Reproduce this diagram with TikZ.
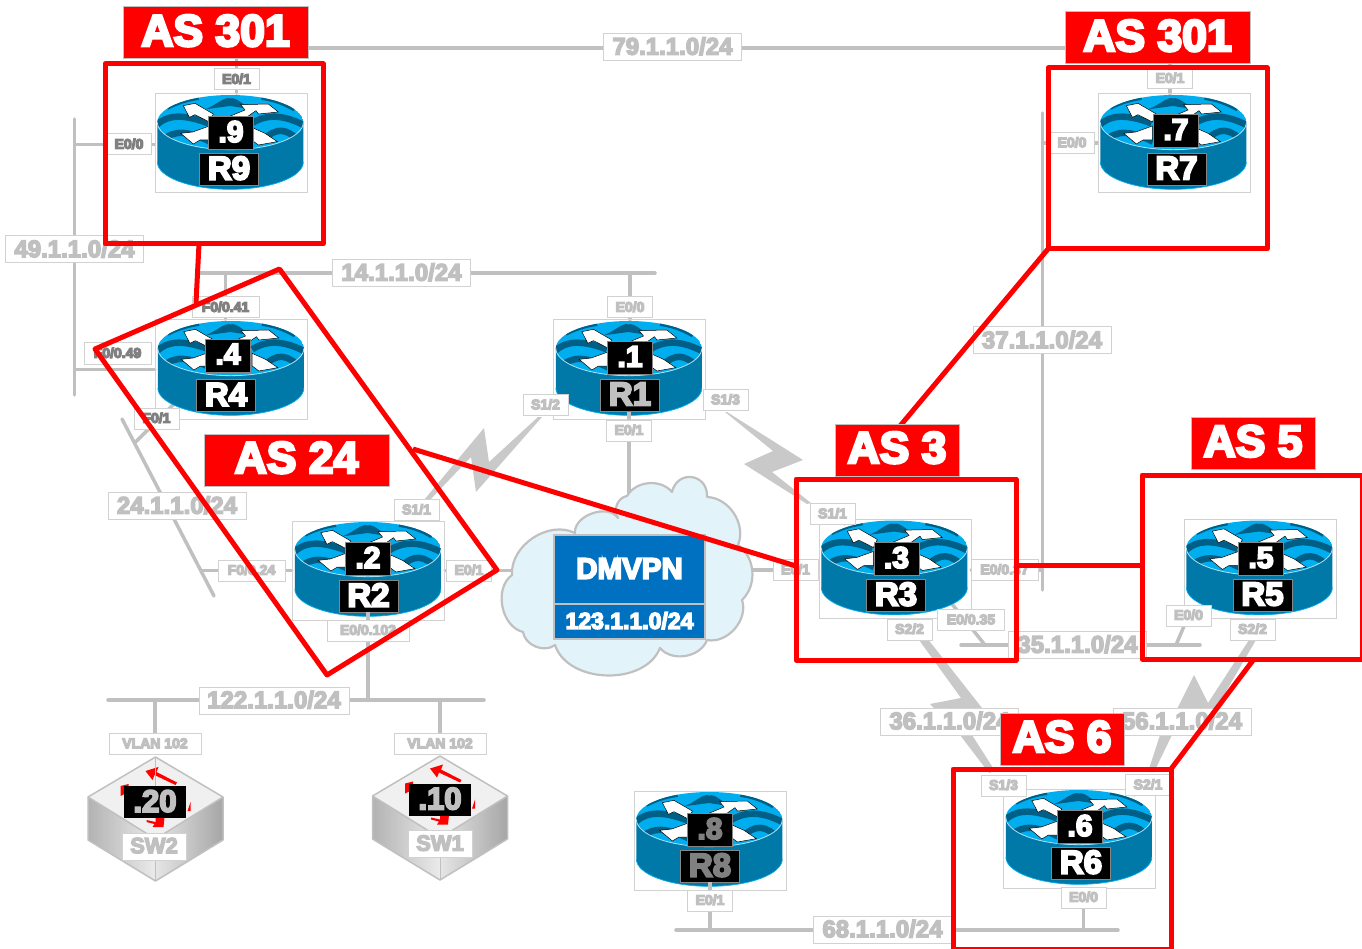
\documentclass[tikz,border=0pt]{standalone}
\usepackage{fontspec}
\usetikzlibrary{calc}
\newfontfamily\hv[FakeBold=6]{Liberation Sans Bold}
\newfontfamily\hvs[FakeBold=9]{Liberation Sans Bold}
\definecolor{linkc}{HTML}{C0C0C0}
\definecolor{txtl}{HTML}{C0C0C0}
\definecolor{txtd}{HTML}{808080}
\definecolor{edgec}{HTML}{D2D2D2}
\definecolor{redc}{HTML}{FF0000}
\definecolor{bodyc}{HTML}{0078A8}
\definecolor{topc}{HTML}{00AEEF}
\definecolor{wavec}{HTML}{005F87}
\definecolor{rimc}{HTML}{A8E0F5}
\definecolor{cloudc}{HTML}{E2F4F9}
\definecolor{bluec}{HTML}{0070C0}
\pgfdeclarelayer{links}
\pgfsetlayers{links,main}
\tikzset{
  link/.style={draw=linkc,line width=3.5pt,line cap=round},
  thinlink/.style={draw=linkc,line width=2pt},
  serial/.style={fill=linkc!85!white,draw=none},
  rbox/.style={draw=edgec,line width=1pt,minimum width=152pt,minimum height=99pt,inner sep=0pt},
  ifc/.style={draw=edgec,fill=white,line width=1pt,inner sep=0pt,minimum height=21pt,minimum width=#1,text=txtl,text depth=1.5pt,font=\hvs\fontsize{14}{14}\selectfont},
  ifc/.default=45pt,
  ifcd/.style={ifc=#1,text=txtd},
  ifcd/.default=45pt,
  subnet/.style={draw=edgec,fill=white,line width=1pt,inner sep=0pt,minimum height=27pt,minimum width=138pt,text=txtl,text depth=2pt,font=\hv\fontsize{24}{24}\selectfont},
  ipbox/.style={draw=linkc!70!black,fill=black,line width=.8pt,inner sep=0pt,minimum width=45pt,minimum height=33pt,text depth=3pt,font=\hv\fontsize{30}{30}\selectfont},
  lbbox/.style={draw=linkc!70!black,fill=black,line width=.8pt,inner sep=0pt,minimum width=#1,minimum height=32pt,text depth=2pt,font=\hv\fontsize{33}{33}\selectfont},
  lbbox/.default=59pt,
  swip/.style={fill=black,inner sep=0pt,minimum width=62pt,minimum height=32pt,text=txtl,text depth=2pt,font=\hv\fontsize{31}{31}\selectfont},
  swname/.style={draw=edgec,fill=white,line width=1pt,inner sep=0pt,minimum width=64pt,minimum height=27pt,text=txtl,text depth=2pt,font=\hv\fontsize{22}{22}\selectfont},
  asbox/.style={draw=linkc,fill=redc,line width=1pt,inner sep=0pt,minimum width=#1,minimum height=52pt,text=white,text depth=5pt,font=\hv\fontsize{44.5}{44.5}\selectfont},
  asframe/.style={draw=redc,line width=5pt,line join=round,inner sep=0pt},
  redline/.style={draw=redc,line width=5pt,line join=round},
  wave/.style={draw=wavec,line width=6.5pt},
  arrowart/.style={fill=white,draw=black,line width=.5pt},
  swarrow/.style={fill=redc,draw=none}
}
\newcommand{\rtrart}{%
  \fill[bodyc] (22,97) -- (22,216) arc[start angle=180,end angle=0,x radius=219,y radius=82] -- (460,97) arc[start angle=0,end angle=180,x radius=219,y radius=82] -- cycle;
  \draw[topc,line width=.7pt] (22,216) arc[start angle=180,end angle=0,x radius=219,y radius=82];
  \begin{scope}
    \clip (241,97) ellipse[x radius=219,y radius=82];
    \fill[topc] (241,97) ellipse[x radius=219,y radius=82];
    \draw[wave] (15,110) .. controls (50,72) and (100,72) .. (175,100);
    \draw[wave] (35,155) .. controls (70,115) and (120,125) .. (180,155);
    \draw[wave] (50,50) .. controls (80,35) and (110,25) .. (145,20);
    \draw[wave] (335,20) .. controls (370,25) and (400,35) .. (435,55);
    \fill[wavec] (165,58) .. controls (200,45) and (220,20) .. (240,25) .. controls (260,20) and (285,50) .. (305,58) -- (240,48) -- cycle;
    \draw[wave] (305,100) .. controls (350,72) and (400,72) .. (470,110);
    \draw[wave] (340,150) .. controls (380,110) and (410,115) .. (450,155);
    \path[arrowart] (100,47) -- (135,40) -- (190,72) -- (178,96) -- (135,74) -- (118,82) -- cycle;
    \path[arrowart] (225,85) -- (285,60) -- (272,44) -- (355,42) -- (385,66) -- (325,72) -- (318,62) -- (285,85) -- cycle;
    \path[arrowart] (92,130) -- (128,126) -- (178,108) -- (178,150) -- (150,150) -- (130,162) -- cycle;
    \path[arrowart] (305,112) -- (345,130) -- (382,155) -- (325,165) -- (305,150) -- cycle;
  \end{scope}
  \draw[rimc,line width=.8pt] (22,97) arc[start angle=180,end angle=0,x radius=219,y radius=82];
}
\newcommand{\rtr}[3]{%
  \node[rbox] (#1) at (#2,#3) {};
  \begin{scope}[shift={(#2,#3)},xscale=1/3,yscale=1/3,shift={(-243,-160.5)}]\rtrart\end{scope}
}
\newcommand{\swt}[3]{% cx, top y, label centre y
  \begin{scope}[shift={(#1,#2)}]
    \fill[left color=black!30,right color=black!8] (-67.5,40) -- (0,82) -- (0,124) -- (-67.5,83) -- cycle;
    \fill[left color=black!10,right color=black!35] (67.5,40) -- (0,82) -- (0,124) -- (67.5,83) -- cycle;
    \path[fill=black!6,draw=linkc,line width=1.5pt,line join=round] (0,0) -- (67.5,40) -- (0,82) -- (-67.5,40) -- cycle;
    \draw[linkc,line width=1.5pt,line join=round] (-67.5,40) -- (-67.5,83) -- (0,124) -- (67.5,83) -- (67.5,40);
    \draw[linkc,line width=1pt] (0,82) -- (0,124);
  \end{scope}
  \begin{scope}[shift={(#1,#3)}]
    \path[swarrow] (20,-17) -- (21.5,-19.5) -- (1,-30) -- (3,-35) -- (-10,-31) -- (-3,-22) -- (-1,-27) -- cycle;
    \path[swarrow] (-35,-6) -- (-35,-16) -- (-27,-18) -- (-27,-10) -- cycle;
    \path[swarrow] (32,9) -- (35,0) -- (35,9) -- cycle;
    \path[swarrow] (-9,18) -- (0,20) -- (0,16) -- (9,15) -- (8,25) -- (-3,25) -- (-1,22) -- (-9,20) -- cycle;
  \end{scope}
}
\begin{document}
\begin{tikzpicture}[x=1pt,y=-1pt]
\useasboundingbox (0,0) rectangle (1362,949);

% cloud
\path[fill=cloudc,draw=linkc,line width=2.2pt,line join=round] (523,632)
  to[bend left=65] (512,575) to[bend left=60] (575,533) to[bend left=75] (618,518)
  to[bend left=60] (627,496) to[bend left=55] (672,492) to[bend left=85,looseness=1.7] (707,497)
  to[bend left=55] (738,545) to[bend left=50] (742,600) to[bend left=60] (707,640)
  to[bend left=60] (660,648) to[bend left=70] (555,645) to[bend left=60] cycle;
\node[fill=bluec,draw=linkc,line width=1.5pt,inner sep=0pt,minimum width=151pt,minimum height=69pt,text=white,text depth=2pt,font=\hv\fontsize{29.5}{29.5}\selectfont] (dmvpn) at (629.5,569.5) {DMVPN};
\node[fill=bluec,draw=linkc,line width=1.5pt,inner sep=0pt,minimum width=151pt,minimum height=35pt,text=white,text depth=2pt,font=\hv\fontsize{23}{23}\selectfont] (dmnet) at (629.5,621.5) {123.1.1.0/24};

% routers
\rtr{R9}{231}{143.5}
\rtr{R7}{1174}{143.5}
\rtr{R4}{231.5}{369.5}
\rtr{R1}{629.5}{369.5}
\rtr{R2}{368.5}{570.5}
\rtr{R3}{895}{569}
\rtr{R5}{1260}{569}
\rtr{R6}{1079.5}{838.5}
\rtr{R8}{710}{840.5}
\node[ipbox,text=white] (R9ip) at (231,133) {.9};
\node[lbbox,text=white] (R9lb) at (229,169) {R9};
\node[ipbox,text=white] (R7ip) at (1176,131) {.7};
\node[lbbox,text=white] (R7lb) at (1176.5,169) {R7};
\node[ipbox,text=white] (R4ip) at (228,355.5) {.4};
\node[lbbox,text=white] (R4lb) at (226,395.5) {R4};
\node[ipbox,text=white] (R1ip) at (630,358) {.1};
\node[lbbox,text=txtl] (R1lb) at (630,395) {R1};
\node[ipbox,text=white] (R2ip) at (368,559) {.2};
\node[lbbox,text=white] (R2lb) at (368.5,596) {R2};
\node[ipbox,text=white] (R3ip) at (896.5,559) {.3};
\node[lbbox,text=white] (R3lb) at (896,595) {R3};
\node[ipbox,text=white] (R5ip) at (1261,559) {.5};
\node[lbbox,text=white] (R5lb) at (1262.5,595) {R5};
\node[ipbox,text=white] (R6ip) at (1080,827) {.6};
\node[lbbox,text=white] (R6lb) at (1081,863) {R6};
\node[ipbox,text=txtd] (R8ip) at (710,830) {.8};
\node[lbbox,text=txtd] (R8lb) at (710,866) {R8};

% switches
\swt{155.5}{757}{802}
\draw[linkc,line width=1pt] (155.5,757) -- (155.5,786);
\swt{440}{756}{799.5}
\node[swip] (SW2ip) at (155,802) {.20};
\node[swip] (SW1ip) at (440,799.5) {.10};
\node[swname] (SW2) at (154,846.5) {SW2};
\node[swname] (SW1) at (440,844) {SW1};

% interface labels
\node[ifcd] (r9e01) at (236.5,79.5) {E0/1};
\node[ifcd] (r9e00) at (129,144.5) {E0/0};
\node[ifc] (r7e01) at (1170,78.5) {E0/1};
\node[ifc] (r7e00) at (1072,143) {E0/0};
\node[ifcd=67pt] (r4f41) at (225.5,307.5) {F0/0.41};
\node[ifcd=67pt] (r4f49) at (117.5,353.5) {F0/0.49};
\node[ifcd] (r4f01) at (156.5,418.5) {F0/1};
\node[ifc] (r1e00) at (630,307.5) {E0/0};
\node[ifc] (r1e01) at (629,430.5) {E0/1};
\node[ifc] (r1s12) at (545.5,405) {S1/2};
\node[ifc] (r1s13) at (725.5,400) {S1/3};
\node[ifc] (r2s11) at (416.5,510) {S1/1};
\node[ifc=67pt] (r2f24) at (251.5,570.5) {F0/0.24};
\node[ifc] (r2e01) at (469,570.5) {E0/1};
\node[ifc=82pt] (r2e102) at (368,630.5) {E0/0.102};
\node[ifc] (r3s11) at (832.5,514) {S1/1};
\node[ifc] (r3e01) at (795.5,570) {E0/1};
\node[ifc=67pt] (r3e37) at (1004.5,570) {E0/0.37};
\node[ifc=67pt] (r3e35) at (971,620) {E0/0.35};
\node[ifc] (r3s22) at (909.5,629.5) {S2/2};
\node[ifc] (r5e00) at (1188.5,615.5) {E0/0};
\node[ifc] (r5s22) at (1252.5,629.5) {S2/2};
\node[ifc] (r6s13) at (1003.5,785.5) {S1/3};
\node[ifc] (r6s21) at (1148,785) {S2/1};
\node[ifc] (r6e00) at (1083.5,897.5) {E0/0};
\node[ifc] (r8e01) at (710,900.5) {E0/1};
\node[ifc=92pt] (sw2v) at (155,744) {VLAN 102};
\node[ifc=92pt] (sw1v) at (440,744) {VLAN 102};

% subnet labels
\node[subnet] (n79) at (672.5,47) {79.1.1.0/24};
\node[subnet] (n49) at (74.5,249.5) {49.1.1.0/24};
\node[subnet] (n14) at (401.5,273) {14.1.1.0/24};
\node[subnet] (n24) at (177,506) {24.1.1.0/24};
\node[subnet,minimum width=150pt] (n122) at (274,700.5) {122.1.1.0/24};
\node[subnet] (n37) at (1042,340.5) {37.1.1.0/24};
\node[subnet] (n35) at (1077.5,645) {35.1.1.0/24};
\node[subnet] (n36) at (949.5,721.5) {36.1.1.0/24};
\node[subnet] (n56) at (1182,721.5) {56.1.1.0/24};
\node[subnet] (n68) at (882.5,929.5) {68.1.1.0/24};

% bus end points
\coordinate (b79a) at (236.5,48);
\coordinate (b79b) at (1170,48);
\coordinate (b49a) at (74.5,119);
\coordinate (b49b) at (74.5,395);
\coordinate (b14a) at (200,273);
\coordinate (b14b) at (655,273);
\coordinate (b24a) at (122,419);
\coordinate (b24b) at (214,596);
\coordinate (b24c) at (134.5,443);
\coordinate (b24d) at (200.5,570.5);
\coordinate (b122a) at (108,700);
\coordinate (b122b) at (484,700);
\coordinate (b37a) at (1042.5,113);
\coordinate (b37b) at (1042.5,590);
\coordinate (b35a) at (961,645);
\coordinate (b35b) at (1200,645);
\coordinate (b35c) at (985,645);
\coordinate (b35d) at (1176,645);
\coordinate (r3port) at (952,604);
\coordinate (r4port) at (175,403);
\coordinate (b68a) at (676,930);
\coordinate (b68b) at (1118,930);

\begin{pgfonlayer}{links}
  \draw[link] (b79a) -- (b79b);
  \draw[link] (b79a) -- (b79a |- R9.north);
  \draw[link] (b79b) -- (b79b |- R7.north);
  \draw[link] (b49a) -- (b49b);
  \draw[link] (b49a |- r9e00) -- (r9e00) -- (r9e00 -| R9.west);
  \draw[link] (b49a |- R4.west) -- (R4.west);
  \draw[link] (b14a) -- (b14b);
  \draw[link] (r4f41 |- b14a) -- (r4f41 |- R4.north);
  \draw[link] (r1e00 |- b14a) -- (r1e00 |- R1.north);
  \draw[link] (b24a) -- (b24b);
  \draw[link] (r4port) -- (b24c);
  \draw[link] (b24d) -- (R2.west |- b24d);
  \draw[link] (r1e01 |- R1lb.south) -- (r1e01 |- dmvpn.north);
  \draw[link] (r2e01 -| R2.east) -- (r2e01 -| dmvpn.west);
  \draw[link] (r3e01 -| dmvpn.east) -- (r3e01 -| R3.west);
  \draw[link] (r3e37 -| R3.east) -- (r3e37 -| b37a);
  \draw[link] (b37a) -- (b37b);
  \draw[link] (b37a |- r7e00) -- (r7e00) -- (r7e00 -| R7.west);
  \draw[link] (b35a) -- (b35b);
  \draw[link] (r3port) -- (b35c);
  \draw[link] (r5e00) -- (b35d);
  \draw[link] (r2e102 |- R2.south) -- (r2e102 |- b122a);
  \draw[link] (b122a) -- (b122b);
  \draw[link] (sw2v) -- (sw2v |- b122a);
  \draw[link] (sw1v) -- (sw1v |- b122a);
  \draw[link] (b68a) -- (b68b);
  \draw[link] (r8e01 |- R8.south) -- (r8e01 |- b68a);
  \draw[link] (r6e00 |- R6.south) -- (r6e00 |- b68a);
  \draw[thinlink] (r2s11) -- (R2);
  \draw[thinlink] (r3s22) -- (R3);
  \draw[thinlink] (r5s22) -- (R5);
  \draw[thinlink] (r6s13) -- (R6);
  \draw[thinlink] (r6s21) -- (R6);
  \draw[thinlink] (r3s11) -- (R3);
  % serial lightning links
  \path[serial] (538,417) -- (489,462) -- (484,428) -- (424,500) -- (428,502) -- (471,457) -- (476,492) -- (542,417) -- cycle;
  \path[serial] (727,412) -- (803,460) -- (772,472) -- (811,503) -- (807,504) -- (744,464) -- (773,451) -- (725,412) -- cycle;
  \path[serial] (919,640) -- (961,698) -- (930,704) -- (960,735) -- (989,773) -- (995,771) -- (972,735) -- (1003,728) -- (982,708) -- (927,638) -- cycle;
  \path[serial] (1249,640) -- (1208,703) -- (1194,675) -- (1178,707) -- (1160,735) -- (1148,772) -- (1154,772) -- (1172,735) -- (1190,720) -- (1214,712) -- (1256,640) -- cycle;
\end{pgfonlayer}

% stubs drawn over the router label
\draw[link,line cap=butt] (r1e01.north) -- ++(0,-8);
\draw[link,line cap=butt] (r8e01.north) -- ++(0,-8);
\draw[link,line cap=butt] (r2e102.north) -- ++(0,-8);

% red frames and connectors
\node[asframe,minimum width=218pt,minimum height=180pt] (f9) at (214,154) {};
\node[asframe,minimum width=219pt,minimum height=181pt] (f7) at (1157.5,158.5) {};
\node[asframe,minimum width=220pt,minimum height=181pt] (f3) at (906,569.5) {};
\node[asframe,minimum width=220pt,minimum height=184pt] (f5) at (1252,567) {};
\node[asframe,minimum width=218pt,minimum height=180pt] (f6) at (1062,859) {};
\coordinate (p1) at (279.5,269);
\coordinate (p2) at (497,570);
\coordinate (p3) at (327,675);
\coordinate (p4) at (95,349);
\draw[redline] (p1) -- (p2) -- (p3) -- (p4) -- cycle;
\coordinate (q1) at (199,244);
\coordinate (q2) at (196,303);
\coordinate (q3) at (413,449);
\coordinate (q4) at (796,566);
\coordinate (q5) at (1048,249);
\coordinate (q6) at (900,426);
\coordinate (q7) at (1016,565);
\coordinate (q8) at (1142,565);
\coordinate (q9) at (1254,659);
\coordinate (q10) at (1171,769);
\draw[redline] (q1) -- (q2);
\draw[redline] (q3) -- (q4);
\draw[redline] (q5) -- (q6);
\draw[redline] (q7) -- (q8);
\draw[redline] (q9) -- (q10);

% AS labels
\node[asbox=185pt] (as9) at (215.5,33) {AS 301};
\node[asbox=185pt] (as7) at (1157.5,38) {AS 301};
\node[asbox=185pt] (as24) at (296.5,460) {AS 24};
\node[asbox=124pt] (as3) at (897,450) {AS 3};
\node[asbox=124pt] (as5) at (1253,443.5) {AS 5};
\node[asbox=124pt] (as6) at (1062,739) {AS 6};
\end{tikzpicture}
\end{document}
